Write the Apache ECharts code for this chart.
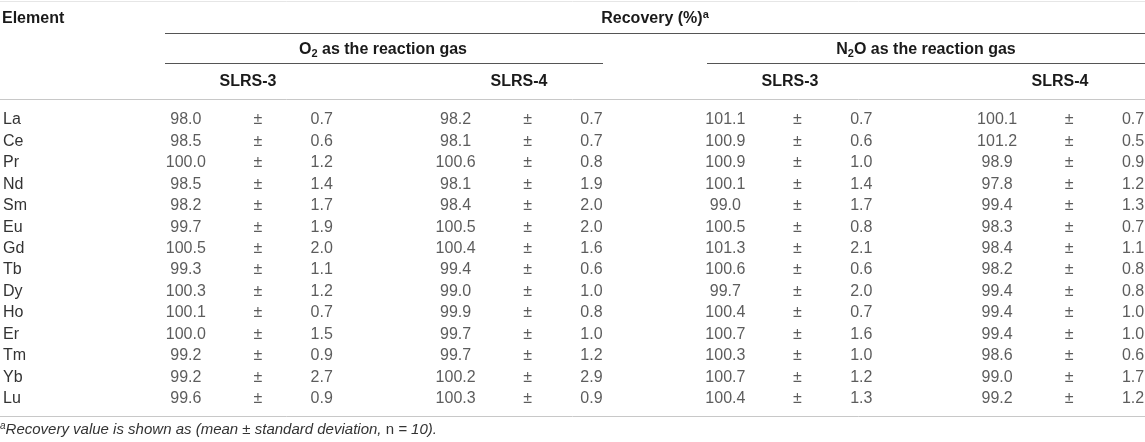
<!DOCTYPE html>
<html>
<head>
<meta charset="utf-8">
<script src="https://cdn.jsdelivr.net/npm/echarts@6/dist/echarts.min.js"></script>
<style>
  html, body { margin: 0; padding: 0; background: #fff; }
  #main { width: 1145px; height: 442px; }
</style>
</head>
<body>
<div id="main"></div>
<script>
var elements = ['La', 'Ce', 'Pr', 'Nd', 'Sm', 'Eu', 'Gd', 'Tb', 'Dy', 'Ho', 'Er', 'Tm', 'Yb', 'Lu'];

// O2 as the reaction gas
var o2Slrs3Mean = [98.0, 98.5, 100.0, 98.5, 98.2, 99.7, 100.5, 99.3, 100.3, 100.1, 100.0, 99.2, 99.2, 99.6];
var o2Slrs3Sd   = [0.7, 0.6, 1.2, 1.4, 1.7, 1.9, 2.0, 1.1, 1.2, 0.7, 1.5, 0.9, 2.7, 0.9];
var o2Slrs4Mean = [98.2, 98.1, 100.6, 98.1, 98.4, 100.5, 100.4, 99.4, 99.0, 99.9, 99.7, 99.7, 100.2, 100.3];
var o2Slrs4Sd   = [0.7, 0.7, 0.8, 1.9, 2.0, 2.0, 1.6, 0.6, 1.0, 0.8, 1.0, 1.2, 2.9, 0.9];

// N2O as the reaction gas
var n2oSlrs3Mean = [101.1, 100.9, 100.9, 100.1, 99.0, 100.5, 101.3, 100.6, 99.7, 100.4, 100.7, 100.3, 100.7, 100.4];
var n2oSlrs3Sd   = [0.7, 0.6, 1.0, 1.4, 1.7, 0.8, 2.1, 0.6, 2.0, 0.7, 1.6, 1.0, 1.2, 1.3];
var n2oSlrs4Mean = [100.1, 101.2, 98.9, 97.8, 99.4, 98.3, 98.4, 98.2, 99.4, 99.4, 99.4, 98.6, 99.0, 99.2];
var n2oSlrs4Sd   = [0.7, 0.5, 0.9, 1.2, 1.3, 0.7, 1.1, 0.8, 0.8, 1.0, 1.0, 0.6, 1.7, 1.2];

var groups = [
  { mean: o2Slrs3Mean, sd: o2Slrs3Sd, x: 185 },
  { mean: o2Slrs4Mean, sd: o2Slrs4Sd, x: 455 },
  { mean: n2oSlrs3Mean, sd: n2oSlrs3Sd, x: 725 },
  { mean: n2oSlrs4Mean, sd: n2oSlrs4Sd, x: 997 }
];

var FONT = '"Liberation Sans", Arial, Helvetica, sans-serif';
var bodyColor = '#333';
var headColor = '#1a1a1a';

// one text-only scatter series per table column
function textColumn(x, values, fmt) {
  return {
    type: 'scatter',
    symbolSize: 0,
    silent: true,
    data: values.map(function (v, i) { return [x, elements[i], fmt(v)]; }),
    label: {
      show: true,
      position: 'inside',
      formatter: function (p) { return p.data[2]; },
      color: bodyColor,
      fontFamily: FONT,
      fontSize: 16
    }
  };
}

var series = [];
groups.forEach(function (g) {
  series.push(textColumn(g.x, g.mean, function (v) { return v.toFixed(1); }));
  series.push(textColumn(g.x + 72, g.mean, function () { return '±'; }));
  series.push(textColumn(g.x + 136, g.sd, function (v) { return v.toFixed(1); }));
});

function headText(x, y, txt, align) {
  return {
    type: 'text', x: x, y: y, silent: true,
    style: {
      text: txt, align: align || 'center', verticalAlign: 'middle',
      fontFamily: FONT, fontSize: 16, fontWeight: 'bold', fill: headColor,
      rich: {
        b: { fontFamily: FONT, fontSize: 16, fontWeight: 'bold', fill: headColor },
        sub: { fontFamily: FONT, fontSize: 11, fontWeight: 'bold', fill: headColor, padding: [8, 0, 0, 0] },
        sup: { fontFamily: FONT, fontSize: 11, fontWeight: 'bold', fill: headColor, padding: [0, 0, 8, 0] }
      }
    }
  };
}

function rule(x1, x2, y, color) {
  return {
    type: 'line', silent: true,
    shape: { x1: x1, y1: y, x2: x2, y2: y },
    style: { stroke: color, lineWidth: 1 }
  };
}

var chart = echarts.init(document.getElementById('main'));
chart.setOption({
  animation: false,
  grid: { left: 0, right: 0, top: 109.3, bottom: 32.7 },
  xAxis: { type: 'value', min: 0, max: 1145, show: false },
  yAxis: {
    type: 'category',
    data: elements,
    inverse: true,
    axisLine: { show: false },
    axisTick: { show: false },
    splitLine: { show: false },
    axisLabel: {
      inside: true, margin: 2, align: 'left',
      color: bodyColor, fontFamily: FONT, fontSize: 16
    }
  },
  series: series,
  graphic: [
    rule(0, 1145, 1.5, '#e6e6e6'),
    headText(2, 19, 'Element', 'left'),
    headText(655, 19, '{b|Recovery (%)}{sup|a}'),
    rule(165, 1145, 33.5, '#555'),
    headText(383, 50, '{b|O}{sub|2}{b| as the reaction gas}'),
    headText(926, 50, '{b|N}{sub|2}{b|O as the reaction gas}'),
    rule(165, 603, 63.5, '#555'),
    rule(707, 1145, 63.5, '#555'),
    headText(248, 82, 'SLRS-3'),
    headText(519, 82, 'SLRS-4'),
    headText(790, 82, 'SLRS-3'),
    headText(1060, 82, 'SLRS-4'),
    rule(0, 1145, 99.5, '#c8c8c8'),
    rule(0, 1145, 416.5, '#c8c8c8'),
    {
      type: 'text', x: 0, y: 430, silent: true,
      style: {
        text: '{sup|a}{it|Recovery value is shown as (mean ± standard deviation, }{rm|n}{it| = 10).}',
        verticalAlign: 'middle', fill: bodyColor, fontFamily: FONT, fontSize: 15,
        rich: {
          it: { fontFamily: FONT, fontSize: 15, fontStyle: 'italic', fill: bodyColor },
          rm: { fontFamily: FONT, fontSize: 15, fill: bodyColor },
          sup: { fontFamily: FONT, fontSize: 10, fontStyle: 'italic', fill: bodyColor, padding: [0, 0, 8, 0] }
        }
      }
    }
  ]
});
</script>
</body>
</html>
